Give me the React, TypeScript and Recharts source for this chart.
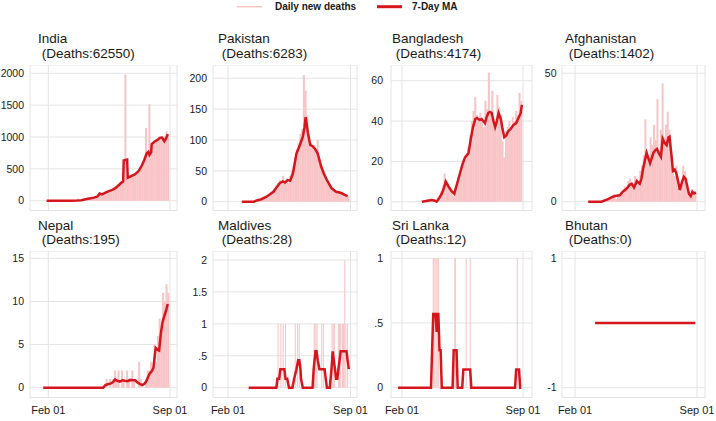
import React from 'react';
import { ComposedChart, Bar, Line, XAxis, YAxis, CartesianGrid } from 'recharts';

// ---- x axis (days since Feb 01) ----
const FEB01 = 0;
const SEP01 = 213;
const xTickDays = [FEB01, SEP01];
const xTickLabels = ['Feb 01', 'Sep 01'];
const DAILY_STEP = 3;

// ---- legend ----
const legendLabels = ['Daily new deaths', '7-Day MA'];

// ---- India ----
const indiaName = 'India';
const indiaDeaths = 62550;
const indiaDailyStart = 0;
const indiaDaily = [
  0, 0, 0, 0, 0, 0, 0, 0, 0, 0, 0, 0, 0, 0,
  1, 2, 3, 4, 6, 9, 14, 20, 26, 32, 36, 40, 46, 52, 68, 75,
  125, 100, 105, 125, 135, 145, 150, 165, 175, 190, 215, 255, 275, 300, 330,
  1980, 345, 370, 385, 395, 410, 425, 450, 495, 540, 600, 670, 1140, 760, 1520, 860,
  900, 935, 950, 960, 1000, 985, 960, 1000, 1090, 1040,
];
const indiaMaDays = [-3, 40, 50, 58, 65, 72, 80, 86, 90, 94, 100, 106, 112, 118, 124, 128, 131, 132, 138, 139, 145, 152, 158, 163, 168, 172, 175, 177, 180, 181, 186, 191, 195, 199, 203, 206, 209];
const indiaMa = [0, 0, 2, 6, 22, 35, 48, 65, 112, 100, 128, 150, 170, 200, 250, 285, 300, 630, 645, 360, 385, 415, 465, 540, 640, 740, 765, 720, 760, 890, 930, 955, 985, 990, 935, 975, 1045];
const indiaYTicks = [0, 500, 1000, 1500, 2000];
const indiaYDomain = [-154, 2130];

// ---- Pakistan ----
const pakistanName = 'Pakistan';
const pakistanDeaths = 6283;
const pakistanDailyStart = 24;
const pakistanDaily = [
  0, 0, 0, 0, 0, 0, 0, 0,
  1, 1, 2, 3, 4, 6, 8, 10, 12, 15, 18, 22, 26, 30, 35, 28, 42, 32, 38, 30, 42, 50,
  58, 70, 85, 95, 110, 118, 205, 180, 140, 110, 95, 88, 92, 80, 100, 68, 60, 50, 44, 36,
  31, 27, 24, 20, 18, 16, 16, 14, 13, 12, 10, 9, 8,
];
const pakistanMaDays = [24, 45, 50, 58, 67, 73, 79, 85, 90, 95, 99, 104, 108, 113, 119, 125, 130, 133, 135, 137, 139, 143, 147, 151, 156, 162, 167, 172, 180, 188, 197, 203, 208];
const pakistanMa = [0, 0, 2, 4, 8, 12, 16, 24, 30, 33, 31, 35, 34, 46, 78, 92, 105, 120, 137, 125, 111, 92, 90, 86, 78, 57, 45, 35, 22, 16, 14, 11, 9];
const pakistanYTicks = [0, 50, 100, 150, 200];
const pakistanYDomain = [-14.3, 221.6];

// ---- Bangladesh ----
const bangladeshName = 'Bangladesh';
const bangladeshDeaths = 4174;
const bangladeshDailyStart = 36;
const bangladeshDaily = [
  0, 0, 0, 1, 1, 1, 0, 1, 0, 2,
  3, 5, 8, 14, 10, 9, 6, 5, 3, 5,
  8, 12, 15, 18, 21, 22, 24, 27, 33, 40,
  45, 52, 43, 41, 44, 40, 37, 50, 46, 64,
  45, 55, 41, 35, 53, 47, 43, 30, 22, 35,
  37, 40, 36, 42, 40, 45, 43, 54, 50,
];
const bangladeshMaDays = [35, 45, 52, 58, 61, 66, 70, 74, 77, 80, 83, 88, 92, 97, 102, 107, 111, 114, 117, 121, 125, 129, 132, 137, 140, 143, 146, 149, 152, 155, 158, 161, 164, 167, 170, 174, 177, 180, 184, 187, 191, 196, 201, 205, 209, 211];
const bangladeshMa = [0, 0.5, 0.8, 0.5, 0, 2, 4, 7, 10, 8.5, 7, 5, 4, 9, 14, 19, 22, 23, 24, 31, 37, 41, 41.5, 40.5, 41, 40, 39, 42, 44, 44.5, 44, 40, 37, 40, 44, 41, 36, 32, 33, 35, 36, 38, 39, 41.5, 44, 48];
const bangladeshYTicks = [0, 20, 40, 60];
const bangladeshYDomain = [-4.36, 67.8];

// ---- Afghanistan ----
const afghanistanName = 'Afghanistan';
const afghanistanDeaths = 1402;
const afghanistanDailyStart = 24;
const afghanistanDaily = [
  0, 0, 0, 0, 0, 0, 0, 0, 0, 1,
  0, 1, 1, 2, 2, 3, 1, 3, 2, 4,
  3, 6, 5, 8, 9, 6, 5, 10, 9, 8,
  12, 14, 18, 32, 20, 15, 25, 22, 30, 24,
  40, 20, 28, 46, 25, 30, 35, 28, 18, 12,
  10, 14, 5, 4, 8, 14, 12, 6, 4, 2,
  5, 3, 4,
];
const afghanistanMaDays = [23, 46, 55, 62, 67, 73, 78, 84, 90, 95, 99, 103, 108, 113, 116, 119, 122, 125, 128, 131, 134, 137, 140, 143, 146, 150, 153, 156, 160, 163, 165, 168, 171, 174, 177, 180, 183, 186, 190, 193, 196, 199, 202, 205, 208, 211];
const afghanistanMa = [0, 0, 0.7, 1.5, 2, 2.3, 2.5, 4, 5, 6.5, 7, 5.5, 8, 7, 9, 13, 16, 19, 17, 15, 17, 19, 20, 20.5, 19, 17.5, 24.5, 23, 22, 25, 25.3, 19, 12, 12.5, 11, 8, 4.5, 7, 9.7, 9, 6, 3, 2.2, 3.8, 3.2, 3.6];
const afghanistanYTicks = [0, 50];
const afghanistanYDomain = [-3.43, 53.2];

// ---- Nepal ----
const nepalName = 'Nepal';
const nepalDeaths = 195;
const nepalDailyStart = 96;
const nepalDaily = [
  0, 0, 1, 0, 1, 0, 1, 2, 1, 2,
  0, 2, 1, 0, 2, 1, 0, 2, 1, 0,
  0, 3, 1, 0, 0, 1, 2, 2, 3, 2,
  5, 3, 6, 8, 7, 11, 10, 12, 11,
];
const nepalMaDays = [-9, 96, 100, 104, 110, 114, 117, 121, 125, 130, 134, 139, 143, 148, 152, 156, 160, 165, 169, 172, 175, 178, 181, 184, 186, 188, 191, 194, 197, 200, 203, 206, 209];
const nepalMa = [0, 0, 0.3, 0.4, 0.5, 0.7, 0.95, 0.8, 0.7, 0.85, 0.8, 0.75, 0.9, 0.85, 0.85, 0.6, 0.45, 0.3, 0.5, 0.8, 1.3, 1.7, 1.9, 2.3, 3.5, 4.6, 4.4, 4.3, 6.3, 7.6, 8.3, 8.9, 9.7];
const nepalYTicks = [0, 5, 10, 15];
const nepalYDomain = [-1.14, 15.85];

// ---- Maldives ----
const maldivesName = 'Maldives';
const maldivesDeaths = 28;
const maldivesDeathDays = [87, 92, 96, 100, 117, 121, 124, 150, 151, 153, 155, 163, 166, 181, 183, 185, 192, 194, 196, 199, 201, 203, 205, 208];
const maldivesDeathCounts = [1, 1, 1, 1, 1, 1, 1, 1, 1, 1, 1, 1, 1, 1, 1, 1, 1, 1, 1, 1, 1, 2, 1, 1];
const maldivesMaDays = [36, 84, 86, 89, 91, 98, 100, 103, 106, 112, 115, 119, 122, 124, 126, 127, 130, 147, 149, 152, 154, 156, 159, 168, 170, 172, 177, 180, 182, 184, 186, 188, 190, 192, 194, 196, 206, 208, 210];
const maldivesMa = [0, 0, 0.14, 0.14, 0.29, 0.29, 0.14, 0.14, 0, 0, 0.14, 0.29, 0.43, 0.43, 0.29, 0.14, 0, 0, 0.29, 0.57, 0.57, 0.43, 0.29, 0.29, 0.14, 0, 0, 0.29, 0.57, 0.43, 0.29, 0.14, 0.14, 0.29, 0.43, 0.57, 0.57, 0.43, 0.29];
const maldivesYTicks = [0, 0.5, 1, 1.5, 2];
const maldivesYDomain = [-0.153, 2.141];

// ---- Sri Lanka ----
const sriLankaName = 'Sri Lanka';
const sriLankaDeaths = 12;
const sriLankaDeathDays = [55, 56, 58, 60, 62, 64, 93, 94, 113, 120, 203];
const sriLankaDeathCounts = [1, 1, 1, 1, 1, 1, 1, 1, 1, 1, 1];
const sriLankaMaDays = [-7, 51, 53, 55, 59, 61, 62, 64, 65, 66, 68, 70, 89, 91, 96, 98, 106, 108, 120, 122, 199, 201, 206, 208, 210];
const sriLankaMa = [0, 0, 0.29, 0.57, 0.57, 0.43, 0.57, 0.57, 0.43, 0.29, 0.29, 0, 0, 0.29, 0.29, 0, 0, 0.14, 0.14, 0, 0, 0.14, 0.14, 0, 0];
const sriLankaYTicks = [0, 0.5, 1];
const sriLankaYDomain = [-0.0757, 1.056];

// ---- Bhutan ----
const bhutanName = 'Bhutan';
const bhutanDeaths = 0;
const bhutanMaDays = [35, 210];
const bhutanMa = [0, 0];
const bhutanYTicks = [-1, 1];
const bhutanYDomain = [-1.151, 1.113];

type Country = {
  name: string;
  deaths: number;
  dailyStart?: number;
  daily?: number[];
  deathDays?: number[];
  deathCounts?: number[];
  maDays: number[];
  ma: number[];
  yTicks: number[];
  yDomain: number[];
};

const countries: Country[] = [
  { name: indiaName, deaths: indiaDeaths, dailyStart: indiaDailyStart, daily: indiaDaily, maDays: indiaMaDays, ma: indiaMa, yTicks: indiaYTicks, yDomain: indiaYDomain },
  { name: pakistanName, deaths: pakistanDeaths, dailyStart: pakistanDailyStart, daily: pakistanDaily, maDays: pakistanMaDays, ma: pakistanMa, yTicks: pakistanYTicks, yDomain: pakistanYDomain },
  { name: bangladeshName, deaths: bangladeshDeaths, dailyStart: bangladeshDailyStart, daily: bangladeshDaily, maDays: bangladeshMaDays, ma: bangladeshMa, yTicks: bangladeshYTicks, yDomain: bangladeshYDomain },
  { name: afghanistanName, deaths: afghanistanDeaths, dailyStart: afghanistanDailyStart, daily: afghanistanDaily, maDays: afghanistanMaDays, ma: afghanistanMa, yTicks: afghanistanYTicks, yDomain: afghanistanYDomain },
  { name: nepalName, deaths: nepalDeaths, dailyStart: nepalDailyStart, daily: nepalDaily, maDays: nepalMaDays, ma: nepalMa, yTicks: nepalYTicks, yDomain: nepalYDomain },
  { name: maldivesName, deaths: maldivesDeaths, deathDays: maldivesDeathDays, deathCounts: maldivesDeathCounts, maDays: maldivesMaDays, ma: maldivesMa, yTicks: maldivesYTicks, yDomain: maldivesYDomain },
  { name: sriLankaName, deaths: sriLankaDeaths, deathDays: sriLankaDeathDays, deathCounts: sriLankaDeathCounts, maDays: sriLankaMaDays, ma: sriLankaMa, yTicks: sriLankaYTicks, yDomain: sriLankaYDomain },
  { name: bhutanName, deaths: bhutanDeaths, maDays: bhutanMaDays, ma: bhutanMa, yTicks: bhutanYTicks, yDomain: bhutanYDomain },
];

// ---- layout ----
const COLS = [
  { pl: 30, pr: 177, feb: 48.3, sep: 170, titleX: 38, gap: 6 },
  { pl: 213, pr: 357, feb: 228, sep: 350.5, titleX: 218, gap: 6 },
  { pl: 391, pr: 532, feb: 402, sep: 523, titleX: 392, gap: 8 },
  { pl: 562, pr: 705, feb: 575, sep: 697, titleX: 565, gap: 5.5 },
];
const ROWS = [
  { pt: 65, pb: 210.5, titleB: 43.3, showX: false },
  { pt: 251, pb: 397.5, titleB: 229.8, showX: true },
];
const Y_AXIS_W = 40;
const X_AXIS_H = 24;
const RIGHT_PAD = 24;

const RED = '#d5161c';
const PINK = '#f8c4c6';
const GRID = '#e4e4e4';
const TEXT = '#1a1a1a';
const FONT = '"Liberation Sans", Arial, Helvetica, sans-serif';

function buildRows(c: Country) {
  const map = new Map<number, any>();
  const get = (t: number) => {
    let r = map.get(t);
    if (!r) {
      r = { t };
      map.set(t, r);
    }
    return r;
  };
  if (c.daily && c.dailyStart !== undefined) {
    c.daily.forEach((v, i) => {
      get(c.dailyStart! + i * DAILY_STEP).daily = v;
    });
  }
  if (c.deathDays && c.deathCounts) {
    c.deathDays.forEach((d, i) => {
      get(d).daily = c.deathCounts![i];
    });
  }
  c.maDays.forEach((d, i) => {
    get(d).ma = c.ma[i];
  });
  return Array.from(map.values()).sort((a, b) => a.t - b.t);
}

const fmtY = (v: number) => {
  const s = String(v);
  return s.startsWith('0.') ? s.slice(1) : s;
};

const makeBarShape = (barW: number) => (props: any) => {
  const { x, y, width, height } = props;
  if (x == null || y == null || !height || height <= 0) return <g />;
  const cx = x + (width || 0) / 2;
  return <rect x={cx - barW / 2} y={y} width={barW} height={height} fill={PINK} />;
};

function Panel({ c, col, row }: { c: Country; col: (typeof COLS)[number]; row: (typeof ROWS)[number] }) {
  const data = buildRows(c);
  const ppd = (col.sep - col.feb) / (SEP01 - FEB01);
  const tL = FEB01 - (col.feb - col.pl) / ppd;
  const tR = SEP01 + (col.pr - col.sep) / ppd;
  const xh = row.showX ? X_AXIS_H : 0;
  const w = col.pr - col.pl + Y_AXIS_W + RIGHT_PAD;
  const h = row.pb - row.pt + xh;
  const thin = !!c.deathDays;
  return (
    <div style={{ position: 'absolute', left: col.pl - Y_AXIS_W, top: row.pt }}>
      <ComposedChart width={w} height={h} data={data} margin={{ top: 0, right: RIGHT_PAD, bottom: 0, left: 0 }}>
        <CartesianGrid stroke={GRID} strokeWidth={1} />
        <XAxis
          dataKey="t"
          type="number"
          domain={[tL, tR]}
          allowDataOverflow
          ticks={xTickDays}
          interval={0}
          tickFormatter={(v: number) => (row.showX ? xTickLabels[xTickDays.indexOf(v)] : '')}
          axisLine={false}
          tickLine={false}
          tickSize={0}
          tickMargin={9}
          height={xh}
          tick={{ fontSize: 11, fill: TEXT }}
        />
        <YAxis
          type="number"
          domain={c.yDomain as [number, number]}
          allowDataOverflow
          ticks={c.yTicks}
          interval={0}
          tickFormatter={fmtY}
          axisLine={false}
          tickLine={false}
          tickSize={0}
          tickMargin={col.gap}
          width={Y_AXIS_W}
          tick={{ fontSize: 10.5, fill: TEXT }}
        />
        <Bar
          dataKey="daily"
          fill={PINK}
          barSize={thin ? 1 : 2}
          shape={makeBarShape(thin ? 1 : 2)}
          isAnimationActive={false}
        />
        <Line
          dataKey="ma"
          type="linear"
          stroke={RED}
          strokeWidth={2.5}
          dot={false}
          connectNulls
          isAnimationActive={false}
        />
      </ComposedChart>
    </div>
  );
}

export default function App() {
  return (
    <div
      style={{
        position: 'absolute',
        left: 0,
        top: 0,
        width: 716,
        height: 421,
        background: '#fff',
        fontFamily: FONT,
        overflow: 'hidden',
      }}
    >
      {countries.map((c, i) => (
        <Panel key={c.name} c={c} col={COLS[i % 4]} row={ROWS[Math.floor(i / 4)]} />
      ))}
      <svg
        width={716}
        height={421}
        style={{ position: 'absolute', left: 0, top: 0, pointerEvents: 'none' }}
        fontFamily={FONT}
      >
        <line x1={237} x2={262} y1={6.7} y2={6.7} stroke={PINK} strokeWidth={1.5} />
        <text x={275} y={10.3} fontSize={10} fontWeight="bold" fill={TEXT}>
          {legendLabels[0]}
        </text>
        <line x1={377} x2={402} y1={6.7} y2={6.7} stroke={RED} strokeWidth={3} />
        <text x={412} y={10.3} fontSize={10} fontWeight="bold" fill={TEXT}>
          {legendLabels[1]}
        </text>
        {countries.map((c, i) => {
          const col = COLS[i % 4];
          const row = ROWS[Math.floor(i / 4)];
          return (
            <g key={c.name}>
              <text x={col.titleX} y={row.titleB} fontSize={13.5} fill={TEXT}>
                {c.name}
              </text>
              <text x={col.titleX} y={row.titleB + 14.6} fontSize={13.5} fill={TEXT} style={{ whiteSpace: 'pre' }}>
                {` (Deaths:${c.deaths})`}
              </text>
            </g>
          );
        })}
      </svg>
    </div>
  );
}
